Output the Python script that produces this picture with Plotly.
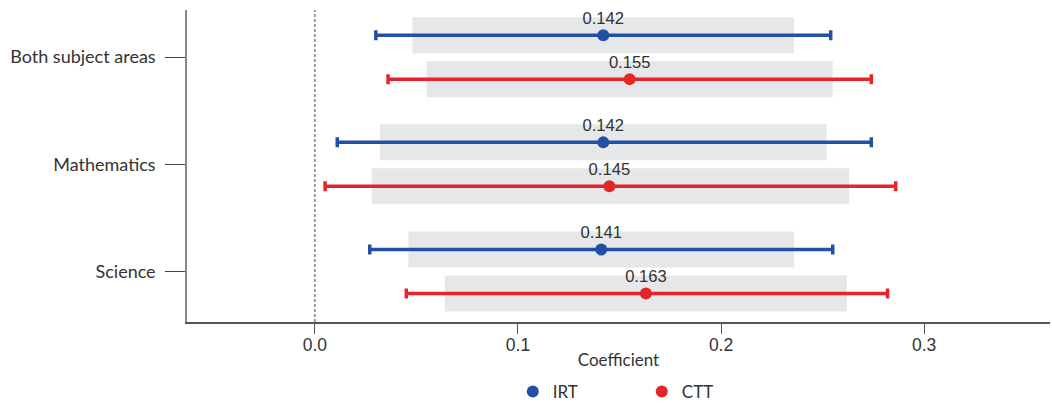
import plotly.graph_objects as go

categories = ["Both subject areas", "Mathematics", "Science"]
cat_pos = [2, 1, 0]

irt_coef = [0.142, 0.142, 0.141]
irt_low = [0.030, 0.011, 0.027]
irt_high = [0.254, 0.274, 0.255]
irt_band_low = [0.048, 0.032, 0.046]
irt_band_high = [0.236, 0.252, 0.236]

ctt_coef = [0.155, 0.145, 0.163]
ctt_low = [0.036, 0.005, 0.045]
ctt_high = [0.274, 0.286, 0.282]
ctt_band_low = [0.055, 0.028, 0.064]
ctt_band_high = [0.255, 0.263, 0.262]

x_ticks = [0.0, 0.1, 0.2, 0.3]
x_ticklabels = ["0.0", "0.1", "0.2", "0.3"]

BLUE = "#2150A5"
RED = "#E4262B"
BAND = "#E6E7E8"
OFF = 0.205
BAND_W = 0.336

irt_y = [c + OFF for c in cat_pos]
ctt_y = [c - OFF for c in cat_pos]

fig = go.Figure()

for ys, lo, hi in [(irt_y, irt_band_low, irt_band_high), (ctt_y, ctt_band_low, ctt_band_high)]:
    fig.add_trace(go.Bar(
        y=ys, x=[h - l for l, h in zip(lo, hi)], base=lo, orientation="h",
        width=BAND_W, marker=dict(color=BAND, line=dict(width=0)),
        showlegend=False, hoverinfo="skip"))

for name, ys, coef, lo, hi, col in [
    ("IRT", irt_y, irt_coef, irt_low, irt_high, BLUE),
    ("CTT", ctt_y, ctt_coef, ctt_low, ctt_high, RED),
]:
    fig.add_trace(go.Scatter(
        x=coef, y=ys, mode="markers", name=name,
        marker=dict(color=col, size=12),
        error_x=dict(type="data", symmetric=False,
                     array=[h - c for c, h in zip(coef, hi)],
                     arrayminus=[c - l for c, l in zip(coef, lo)],
                     color=col, thickness=3.5, width=5),
        hoverinfo="skip"))
    fig.add_trace(go.Scatter(
        x=coef, y=ys, mode="markers+text", text=[f"{v:.3f}" for v in coef],
        textposition="top center",
        marker=dict(size=10, opacity=0),
        textfont=dict(family="Liberation Sans, Arial", size=16.6, color="#333333"),
        showlegend=False, hoverinfo="skip", cliponaxis=False))

fig.add_shape(type="line", xref="x", yref="paper", x0=0, x1=0, y0=0, y1=1,
              line=dict(color="#444444", width=1, dash="3px,2px"), layer="below")

fig.update_layout(
    width=1052, height=405,
    margin=dict(l=187, r=2, t=10, b=83, autoexpand=False),
    plot_bgcolor="white", paper_bgcolor="white",
    barmode="overlay",
    font=dict(family="Liberation Sans, Arial", size=16, color="#333333"),
    legend=dict(orientation="h", x=0.527, xanchor="center", y=-0.224, yanchor="middle",
                font=dict(family="Lato", size=17, color="#333333"),
                entrywidth=84, entrywidthmode="pixels", itemsizing="constant"),
    xaxis=dict(range=[-0.063, 0.362], tickvals=x_ticks, ticktext=x_ticklabels,
               showgrid=False, zeroline=False, showline=True, linecolor="#555555", linewidth=1.5,
               ticks="outside", ticklen=10, tickcolor="#555555", tickwidth=1,
               ticklabelstandoff=-4, automargin=False,
               tickfont=dict(family="Liberation Sans, Arial", size=17.5, color="#333333"),
               title=dict(text="Coefficient", standoff=0,
                          font=dict(family="Lato", size=17, color="#333333"))),
    yaxis=dict(range=[-0.471, 2.44], tickvals=cat_pos, ticktext=categories,
               showgrid=False, zeroline=False, showline=True, linecolor="#888888", linewidth=1.5,
               ticks="outside", ticklen=20, tickcolor="#444444", tickwidth=1,
               ticklabelstandoff=6, automargin=False,
               tickfont=dict(family="Lato", size=18, color="#333333")),
)

fig.write_html("out.html")
